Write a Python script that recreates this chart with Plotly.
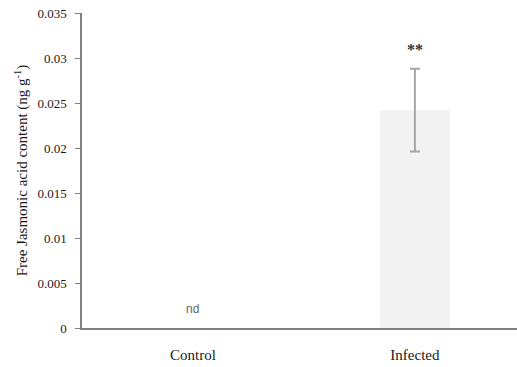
import plotly.graph_objects as go

categories = ["Control", "Infected"]
values = [None, 0.0242]  # control: not detected (nd)
errors = [None, 0.0046]
tick_vals = [0, 0.005, 0.01, 0.015, 0.02, 0.025, 0.03, 0.035]
tick_text = ["0", "0.005", "0.01", "0.015", "0.02", "0.025", "0.03", "0.035"]
labels = ["nd", "**"]

fig = go.Figure()
fig.add_trace(go.Bar(
    x=categories, y=values, width=0.315,
    marker=dict(color="#f2f2f2", line=dict(width=0)),
    error_y=dict(type="data", array=errors, visible=True, color="#a6a6a6", thickness=2, width=5),
))
fig.add_annotation(x=categories[0], y=0.0021, text=labels[0], showarrow=False,
                   font=dict(family="Liberation Sans", size=12, color="#666666"))
fig.add_annotation(x=categories[1], y=0.0309, text="<b>" + labels[1] + "</b>", showarrow=False,
                   font=dict(family="Liberation Serif", size=16, color="#333333"))
fig.update_layout(
    width=517, height=367, margin=dict(l=82, r=0, t=13, b=39),
    plot_bgcolor="white", paper_bgcolor="white", showlegend=False,
    font=dict(family="Liberation Serif", color="#1a1a1a"),
)
fig.update_xaxes(type="category", range=[-0.5, 1.46], showline=True, linecolor="#808080", linewidth=1.5,
                 ticks="", tickfont=dict(size=15, family="Liberation Serif"), ticklabelstandoff=12)
fig.update_yaxes(range=[0, 0.035], tickvals=tick_vals, ticktext=tick_text, showline=True,
                 linecolor="#808080", linewidth=1.5, ticks="outside", ticklen=5, tickcolor="#808080",
                 showgrid=False, zeroline=False, tickfont=dict(size=13, family="Liberation Serif"),
                 ticklabelstandoff=6,
                 title=dict(text="Free Jasmonic acid content (ng g<sup>-1</sup>)",
                            font=dict(size=15, family="Liberation Serif"), standoff=6))
fig.write_html("out.html")
